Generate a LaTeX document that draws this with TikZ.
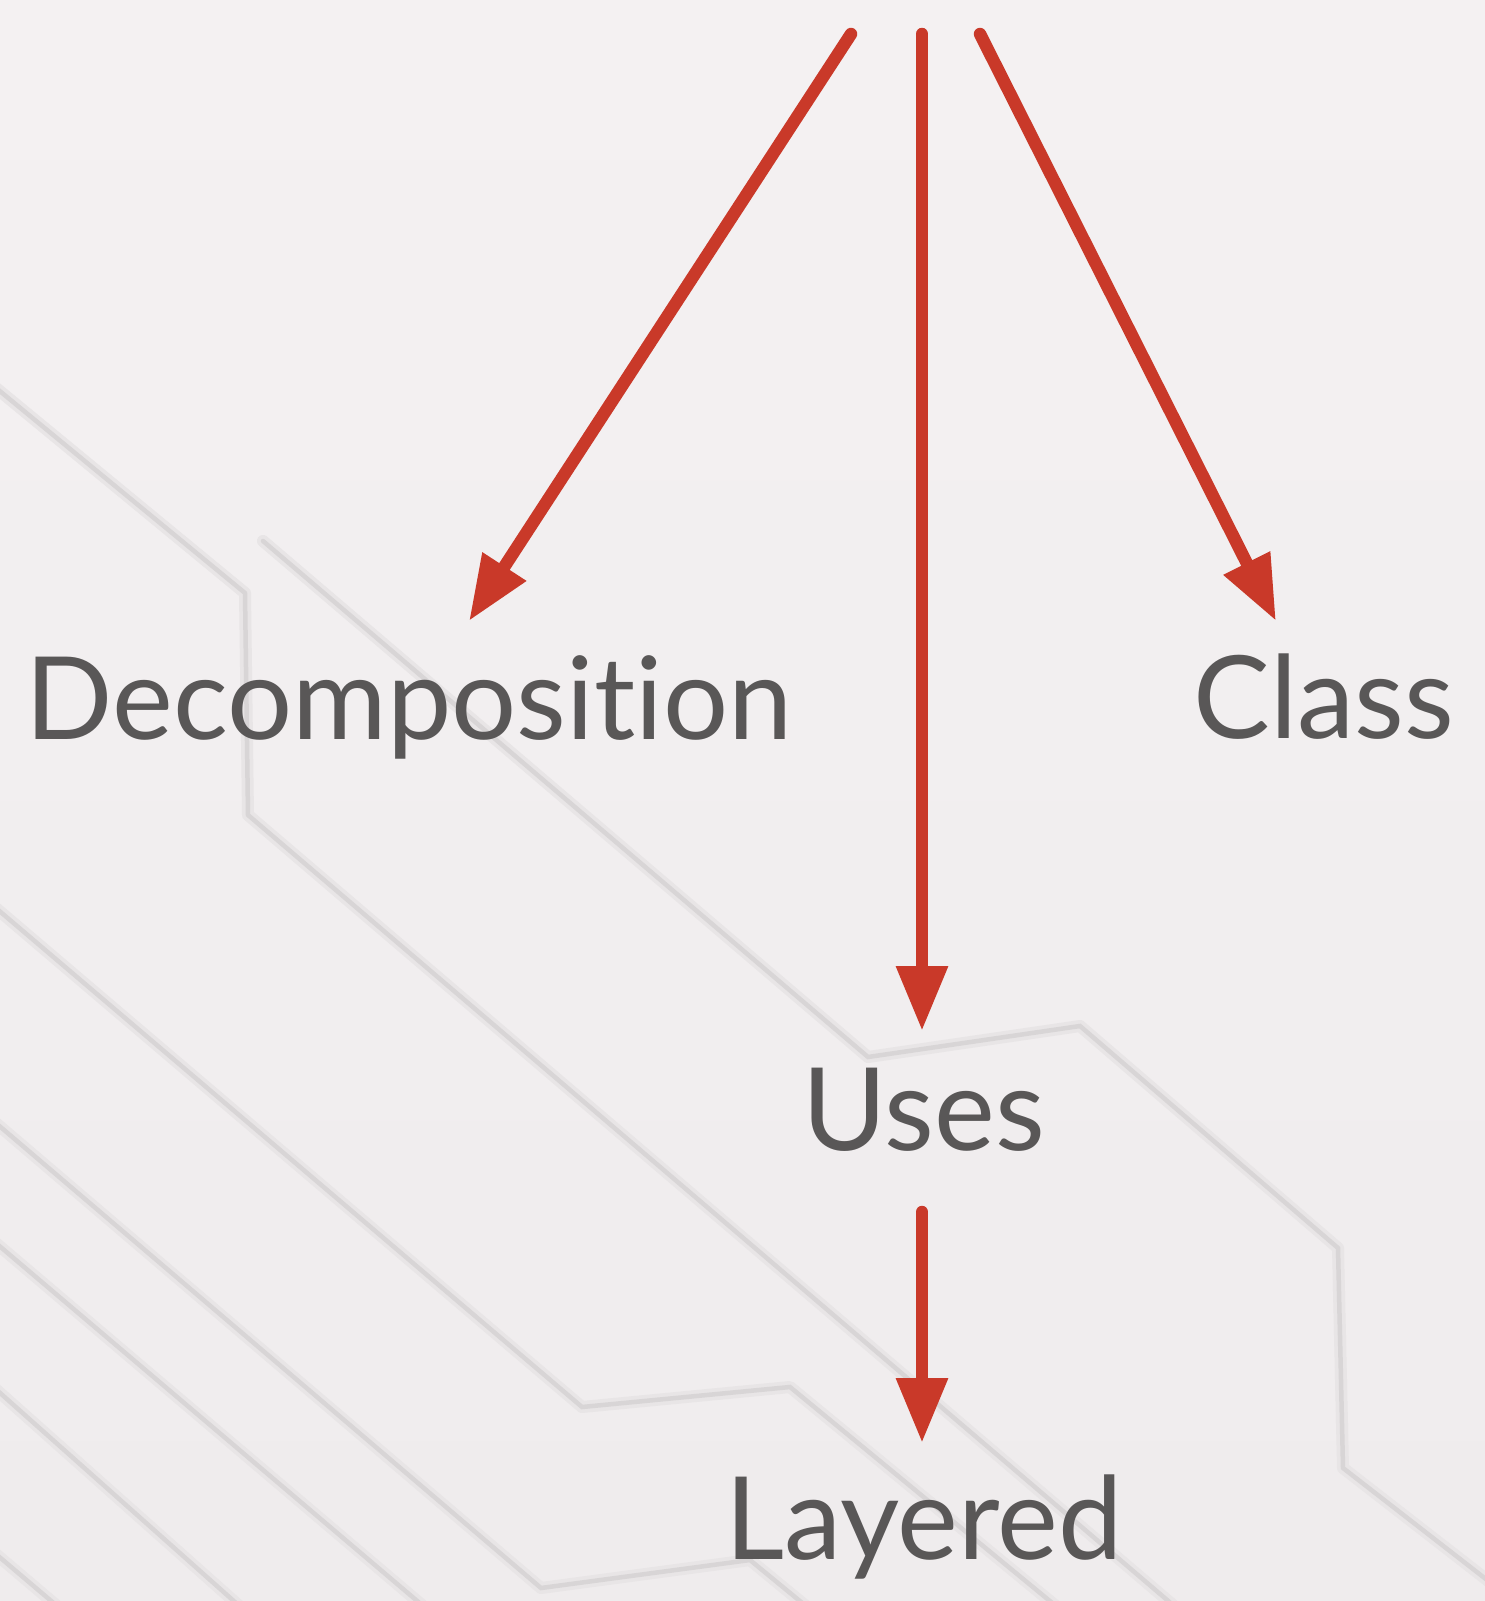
\documentclass[tikz,border=0pt]{standalone}
\usepackage{fontspec}
\setmainfont{Lato}[Ligatures=NoCommon]
\usetikzlibrary{arrows.meta}

\definecolor{bgtop}{RGB}{244,241,242}
\definecolor{bgbot}{RGB}{239,236,237}
\definecolor{tracecol}{RGB}{216,213,214}
\definecolor{glowcol}{RGB}{232,229,230}
\definecolor{arrowred}{RGB}{201,57,41}
\definecolor{labelgray}{RGB}{89,87,87}

% a faint circuit-like trace: soft halo under a thin grey line
\newcommand\circuittrace[1]{%
  \draw[traceglow] #1;
  \draw[traceline] #1;}

\begin{document}
\begin{tikzpicture}[x=1pt,y=-1pt,
  traceline/.style={draw=tracecol, line width=4.5pt, line join=miter, line cap=round},
  traceglow/.style={draw=glowcol, line width=12pt, line join=round, line cap=round},
  arr/.style={draw=arrowred, line width=12.5pt, line cap=round,
              -{Triangle[width=49pt,length=65pt]}},
  label/.style={text=labelgray, font=\fontsize{115}{138}\selectfont,
                anchor=base, inner sep=0pt}]

% page and background
\fill[top color=bgtop, bottom color=bgbot] (0,0) rectangle (1485,1601);
\useasboundingbox (0,0) rectangle (1485,1601);

% decorative traces
\begin{scope}
  \clip (0,0) rectangle (1485,1601);
  \circuittrace{(-10,383) -- (245,593) -- (248,815) -- (1180,1611)}
  \circuittrace{(263,541) -- (868,1057) -- (1080,1026) -- (1338,1248) -- (1343,1468) -- (1500,1590)}
  \circuittrace{(-10,903) -- (582,1407) -- (790,1387) -- (1062,1611)}
  \circuittrace{(-10,1118) -- (541,1588) -- (750,1560) -- (812,1611)}
  \circuittrace{(-10,1238) -- (429,1611)}
  \circuittrace{(-10,1384) -- (245,1611)}
  \circuittrace{(-10,1549) -- (63,1611)}
\end{scope}

% labels
\node[label] (dec)   at (409,739)  {Decomposition};
\node[label] (class) at (1324,738) {Class};
\node[label] (uses)  at (924,1150) {Uses};
\node[label] (lay)   at (924,1559) {Layered};

% connector ends
\coordinate (fanL)    at (851,34);
\coordinate (fanM)    at (922,34);
\coordinate (fanR)    at (980,34);
\coordinate (decIn)   at (469,621);
\coordinate (usesIn)  at (922,1031);
\coordinate (classIn) at (1276,621);
\coordinate (usesOut) at (922,1212);
\coordinate (layIn)   at (922,1443);

% arrows
\draw[arr] (fanL) -- (decIn);
\draw[arr] (fanM) -- (usesIn);
\draw[arr] (fanR) -- (classIn);
\draw[arr] (usesOut) -- (layIn);

\end{tikzpicture}
\end{document}
